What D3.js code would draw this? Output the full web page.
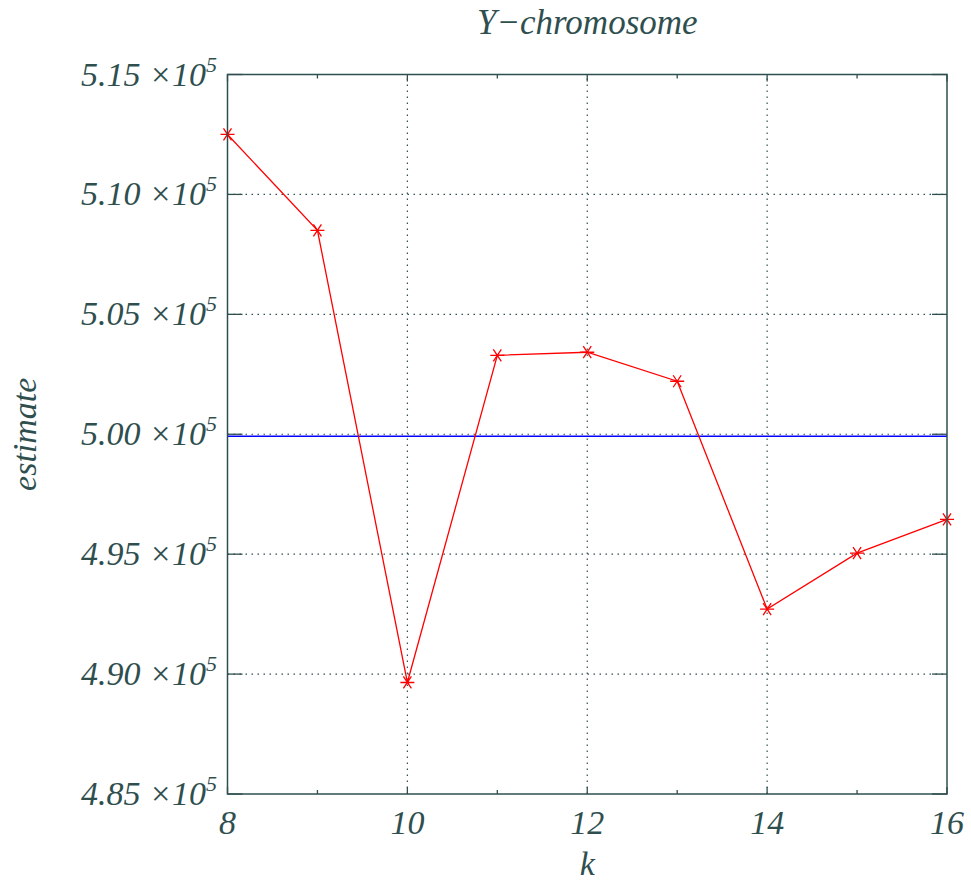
<!DOCTYPE html>
<html>
<head>
<meta charset="utf-8">
<script src="https://cdn.jsdelivr.net/npm/d3@7"></script>
<style>
  body { margin: 0; background: #fff; }
</style>
</head>
<body>
<svg id="chart" width="971" height="884"></svg>
<script>
// values (estimate in units of 10^5)
var kValues = [8, 9, 10, 11, 12, 13, 14, 15, 16]
var estimates = [5.125, 5.085, 4.8965, 5.0329, 5.0342, 5.0221, 4.9271, 4.9504, 4.9645]
var trueValue = 4.9992
var yTicks = [4.85, 4.90, 4.95, 5.00, 5.05, 5.10, 5.15]
var xTicks = [8, 10, 12, 14, 16]
var xMinorTicks = [9, 11, 13, 15]

var width = 971, height = 884
var margin = {top: 74.5, right: 24, bottom: 90, left: 227.5}
var ink = "#2f4f4f"

var svg = d3.select("#chart")

var x = d3.scaleLinear()
	.domain([8, 16])
	.range([margin.left, width - margin.right])

var y = d3.scaleLinear()
	.domain([4.85, 5.15])
	.range([height - margin.bottom, margin.top])

// grid
var grid = svg.append("g")
	.attr("stroke", ink)
	.attr("stroke-width", 1.2)
	.attr("stroke-dasharray", "1.5,4.5")

grid.selectAll("line.h")
	.data(yTicks.slice(1, -1))
	.join("line")
		.attr("class", "h")
		.attr("x1", x(8)).attr("x2", x(16))
		.attr("y1", d => y(d)).attr("y2", d => y(d))

grid.selectAll("line.v")
	.data(xTicks.slice(1, -1))
	.join("line")
		.attr("class", "v")
		.attr("y1", y(4.85)).attr("y2", y(5.15))
		.attr("x1", d => x(d)).attr("x2", d => x(d))

// tick marks, inward on all four sides
var ticks = svg.append("g")
	.attr("stroke", ink)
	.attr("stroke-width", 1.3)

yTicks.forEach(d => {
	ticks.append("line").attr("x1", x(8)).attr("x2", x(8) + 15).attr("y1", y(d)).attr("y2", y(d))
	ticks.append("line").attr("x1", x(16)).attr("x2", x(16) - 15).attr("y1", y(d)).attr("y2", y(d))
})
xTicks.forEach(d => {
	ticks.append("line").attr("x1", x(d)).attr("x2", x(d)).attr("y1", y(4.85)).attr("y2", y(4.85) - 7)
	ticks.append("line").attr("x1", x(d)).attr("x2", x(d)).attr("y1", y(5.15)).attr("y2", y(5.15) + 7)
})
xMinorTicks.forEach(d => {
	ticks.append("line").attr("x1", x(d)).attr("x2", x(d)).attr("y1", y(4.85)).attr("y2", y(4.85) - 4)
	ticks.append("line").attr("x1", x(d)).attr("x2", x(d)).attr("y1", y(5.15)).attr("y2", y(5.15) + 4)
})

// reference line
svg.append("line")
	.attr("x1", x(8)).attr("x2", x(16))
	.attr("y1", y(trueValue)).attr("y2", y(trueValue))
	.attr("stroke", "#0000ff")
	.attr("stroke-width", 1.5)

// estimate series
var data = kValues.map((k, i) => ({k: k, v: estimates[i]}))

var line = d3.line()
	.x(d => x(d.k))
	.y(d => y(d.v))

svg.append("path")
	.datum(data)
	.attr("fill", "none")
	.attr("stroke", "#ff0000")
	.attr("stroke-width", 1.3)
	.attr("d", line)

var star = "M-7,0L7,0M-4,-6L4,6M-4,6L4,-6"
svg.append("g")
	.selectAll("path")
	.data(data)
	.join("path")
		.attr("transform", d => `translate(${x(d.k)},${y(d.v)})`)
		.attr("d", star)
		.attr("stroke", "#ff0000")
		.attr("stroke-width", 1.3)
		.attr("fill", "none")

// frame
svg.append("rect")
	.attr("x", x(8)).attr("y", y(5.15))
	.attr("width", x(16) - x(8)).attr("height", y(4.85) - y(5.15))
	.attr("fill", "none")
	.attr("stroke", ink)
	.attr("stroke-width", 1.5)

function label(sel, size) {
	return sel
		.attr("font-family", "Liberation Serif")
		.attr("font-style", "italic")
		.attr("font-size", size)
		.attr("fill", ink)
		.style("font-family", "'Liberation Serif', 'Times New Roman', Tinos")
		.style("font-style", "italic")
}

// y tick labels
var yl = svg.append("g")
	.selectAll("text")
	.data(yTicks)
	.join("text")
		.call(label, 34)
		.attr("x", 217)
		.attr("y", d => y(d) + 11)
		.attr("text-anchor", "end")

yl.append("tspan").text(d => d3.format(".2f")(d) + " ×10")
yl.append("tspan").attr("dy", -14).attr("font-size", 22).text("5")

// x tick labels
svg.append("g")
	.selectAll("text")
	.data(xTicks)
	.join("text")
		.call(label, 34)
		.attr("x", d => x(d))
		.attr("y", 834)
		.attr("text-anchor", "middle")
		.text(d => d)

// titles
svg.append("text")
	.call(label, 35)
	.attr("x", (x(8) + x(16)) / 2)
	.attr("y", 34)
	.attr("text-anchor", "middle")
	.text("Y\u2212chromosome")

svg.append("text")
	.call(label, 34)
	.attr("x", (x(8) + x(16)) / 2)
	.attr("y", 875)
	.attr("text-anchor", "middle")
	.text("k")

svg.append("text")
	.call(label, 34)
	.attr("transform", `translate(36,${(y(4.85) + y(5.15)) / 2}) rotate(-90)`)
	.attr("text-anchor", "middle")
	.text("estimate")
</script>
</body>
</html>
